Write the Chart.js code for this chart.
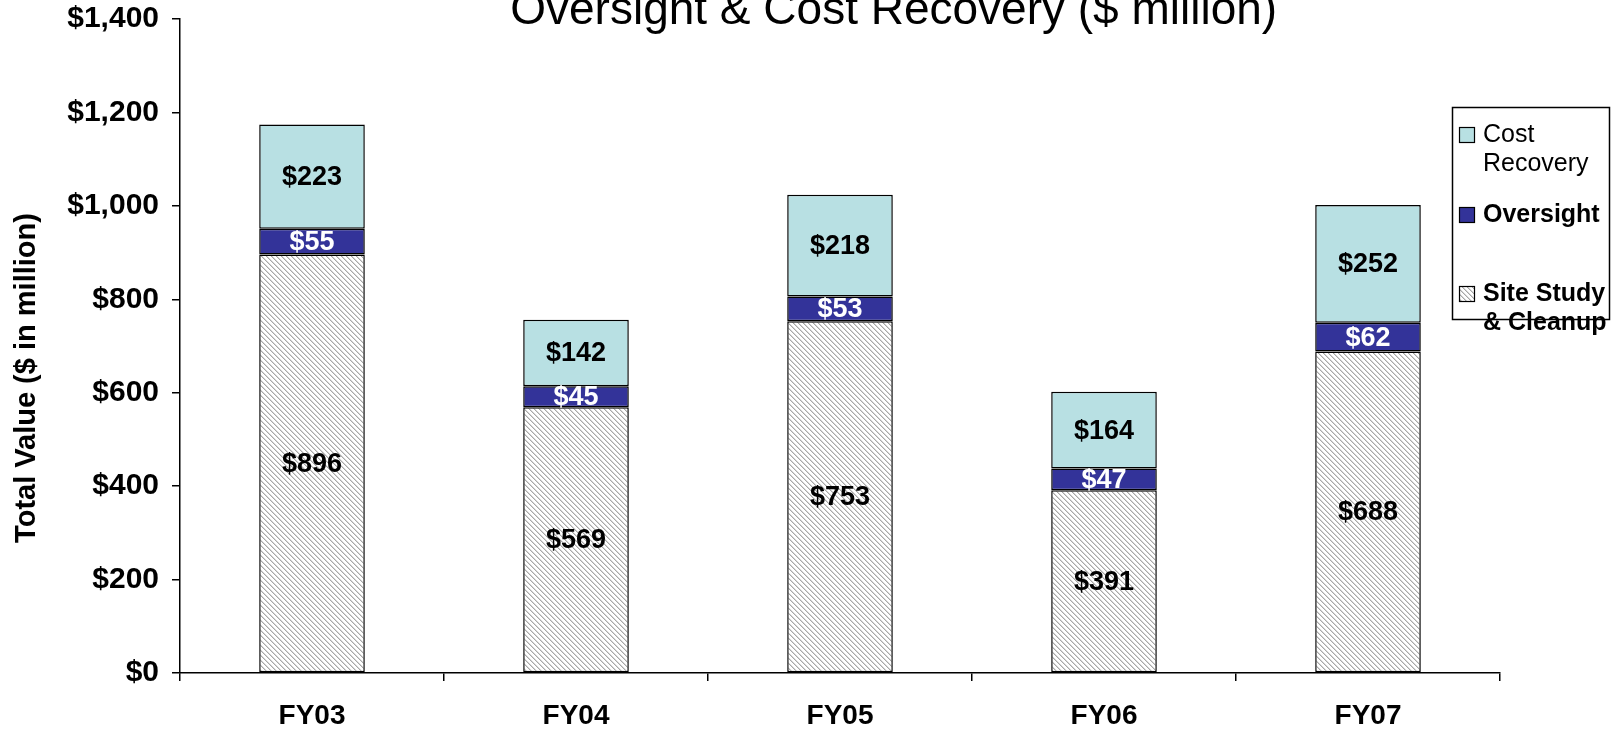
<!DOCTYPE html>
<html>
<head>
<meta charset="utf-8">
<title>Oversight & Cost Recovery</title>
<script src="https://cdn.jsdelivr.net/npm/chart.js@4.4.1/dist/chart.umd.min.js"></script>
<style>
	html, body { margin: 0; padding: 0; background: #fff; }
	#oversight-chart { display: block; }
</style>
</head>
<body>
<canvas id="oversight-chart" width="1619" height="729"></canvas>
<script>
// values, $ million
const fiscalYears = ['FY03', 'FY04', 'FY05', 'FY06', 'FY07'];
const siteStudyCleanup = [896, 569, 753, 391, 688];
const oversight = [55, 45, 53, 47, 62];
const costRecovery = [223, 142, 218, 164, 252];
const yTickValues = [0, 200, 400, 600, 800, 1000, 1200, 1400];

const chartTitle = 'Oversight & Cost Recovery ($ million)';
const yAxisTitle = 'Total Value ($ in million)';
const fontFamily = '"Liberation Sans", Arial, Helvetica, sans-serif';

const canvas = document.getElementById('oversight-chart');
const mainCtx = canvas.getContext('2d');

// light grey "\" hatch for the site study segments
const makeHatch = () => {
	let tile = document.createElement('canvas');
	tile.width = 5;
	tile.height = 5;
	let g = tile.getContext('2d');
	g.fillStyle = '#ffffff';
	g.fillRect(0, 0, 5, 5);
	for (let i = 0; i < 5; i++) {
		g.fillStyle = '#a8a8a8';
		g.fillRect(i, i, 1, 1);
		g.fillStyle = '#d6d6d6';
		g.fillRect((i + 1) % 5, i, 1, 1);
	}
	return mainCtx.createPattern(tile, 'repeat');
};
const hatch = makeHatch();

const money = (v) => '$' + Number(v).toLocaleString('en-US');

// labels in the middle of each segment
const segmentLabels = {
	id: 'segmentLabels',
	afterDatasetsDraw(chart) {
		let ctx = chart.ctx;
		ctx.save();
		ctx.font = 'bold 27px ' + fontFamily;
		ctx.textAlign = 'center';
		ctx.textBaseline = 'middle';
		chart.data.datasets.forEach((ds, i) => {
			chart.getDatasetMeta(i).data.forEach((bar, j) => {
				ctx.fillStyle = ds.labelColor;
				ctx.fillText(money(ds.data[j]), bar.x, (bar.y + bar.base) / 2 + 1);
			});
		});
		ctx.restore();
	}
};

// title (cut at the top like the original), y title and boxed legend
const decorations = {
	id: 'decorations',
	afterDraw(chart) {
		let ctx = chart.ctx;
		ctx.save();
		ctx.fillStyle = '#000';
		ctx.font = '46px ' + fontFamily;
		ctx.textAlign = 'center';
		ctx.textBaseline = 'alphabetic';
		ctx.fillText(chartTitle, chart.width * 0.552, 24);

		ctx.save();
		ctx.translate(27, 378);
		ctx.rotate(-Math.PI / 2);
		ctx.font = 'bold 29px ' + fontFamily;
		ctx.textBaseline = 'middle';
		ctx.fillText(yAxisTitle, 0, 0);
		ctx.restore();

		// legend box
		let lx = 1452, ly = 107, lw = 157, lh = 212;
		ctx.strokeStyle = '#000';
		ctx.lineWidth = 1.5;
		ctx.strokeRect(lx + 0.5, ly + 0.5, lw, lh);

		let items = chart.data.datasets.slice().reverse();
		let rows = [135, 215, 294];
		ctx.textAlign = 'left';
		ctx.textBaseline = 'middle';
		items.forEach((ds, k) => {
			let cy = rows[k];
			ctx.fillStyle = ds.backgroundColor;
			ctx.fillRect(lx + 7, cy - 8, 16, 16);
			ctx.lineWidth = 1.2;
			ctx.strokeRect(lx + 7.5, cy - 7.5, 15, 15);
			ctx.fillStyle = '#000';
			ctx.font = (ds.legendBold ? 'bold ' : '') + '25px ' + fontFamily;
			ds.legendLines.forEach((line, n) => {
				ctx.fillText(line, lx + 31, cy + n * 29);
			});
		});
		ctx.restore();
	}
};

new Chart(canvas, {
	type: 'bar',
	data: {
		labels: fiscalYears,
		datasets: [
			{
				label: 'Site Study & Cleanup',
				legendLines: ['Site Study', '& Cleanup'],
				legendBold: true,
				data: siteStudyCleanup,
				backgroundColor: hatch,
				labelColor: '#000',
				borderColor: '#000',
				borderWidth: 1.5,
				borderSkipped: false
			},
			{
				label: 'Oversight',
				legendLines: ['Oversight'],
				legendBold: true,
				data: oversight,
				backgroundColor: '#333399',
				labelColor: '#fff',
				borderColor: '#000',
				borderWidth: 1.5,
				borderSkipped: false
			},
			{
				label: 'Cost Recovery',
				legendLines: ['Cost', 'Recovery'],
				legendBold: false,
				data: costRecovery,
				backgroundColor: '#b8e0e3',
				labelColor: '#000',
				borderColor: '#000',
				borderWidth: 1.5,
				borderSkipped: false
			}
		]
	},
	options: {
		responsive: false,
		animation: false,
		devicePixelRatio: 1,
		layout: {
			padding: { top: 19, right: 119, left: 0, bottom: 0 }
		},
		datasets: {
			bar: { categoryPercentage: 1, barPercentage: 0.4 }
		},
		plugins: {
			legend: { display: false },
			tooltip: { enabled: false }
		},
		scales: {
			x: {
				stacked: true,
				afterFit: (scale) => { scale.height = 56; },
				grid: {
					offset: true,
					drawOnChartArea: false,
					color: '#000',
					lineWidth: 1.5,
					tickLength: 8
				},
				border: { display: true, color: '#000', width: 1.5 },
				ticks: {
					color: '#000',
					padding: 18,
					font: { family: fontFamily, size: 28, weight: 'bold' }
				}
			},
			y: {
				stacked: true,
				min: 0,
				max: 1400,
				afterFit: (scale) => {
					scale.width = 180;
					scale.paddingTop = 0;
					scale.paddingBottom = 0;
				},
				afterBuildTicks: (scale) => {
					scale.ticks = yTickValues.map((v) => ({ value: v }));
				},
				grid: {
					drawOnChartArea: false,
					color: '#000',
					lineWidth: 1.5,
					tickLength: 8
				},
				border: { display: true, color: '#000', width: 1.5 },
				ticks: {
					color: '#000',
					padding: 13,
					callback: (v) => money(v),
					font: { family: fontFamily, size: 30, weight: 'bold', lineHeight: 1 }
				}
			}
		}
	},
	plugins: [segmentLabels, decorations]
});
</script>
</body>
</html>
